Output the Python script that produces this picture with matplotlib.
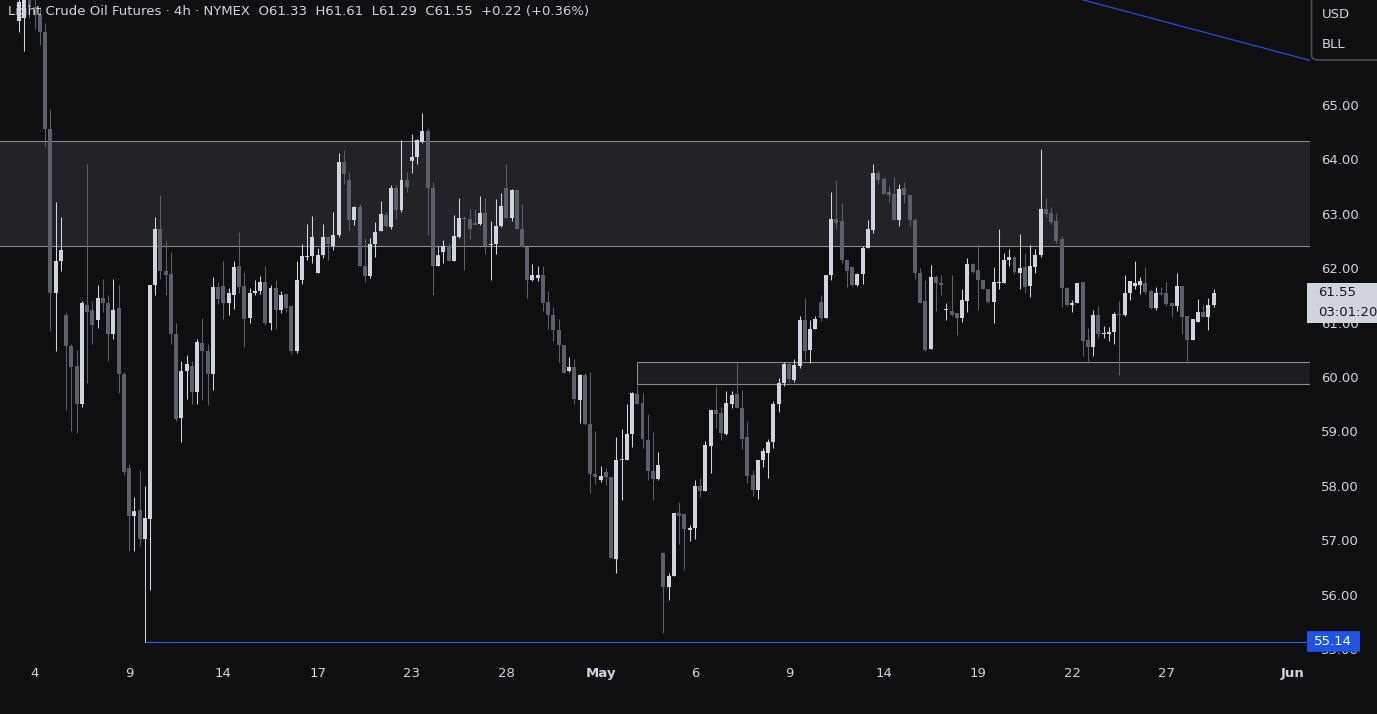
import matplotlib
matplotlib.use("Agg")
import matplotlib.pyplot as plt
from matplotlib.patches import Rectangle, FancyBboxPatch
from matplotlib.transforms import blended_transform_factory

# 4h OHLC bars (oldest first)
opens = [66.55, 66.60, 67.00, 66.80, 66.65, 66.34, 64.56, 61.55, 62.13, 61.14,
         60.58, 60.20, 59.51, 61.33, 61.24, 61.04, 61.46, 61.36, 60.79, 61.27,
         60.05, 58.33, 57.45, 57.55, 57.02, 57.39, 61.69, 62.72, 61.95, 61.89,
         60.79, 59.25, 60.11, 60.21, 59.72, 60.62, 60.48, 60.05, 61.65, 61.67,
         61.36, 61.51, 62.04, 61.67, 61.08, 61.54, 61.59, 61.74, 60.99, 61.64,
         61.24, 61.53, 61.30, 60.48, 61.78, 62.20, 62.22, 61.91, 62.24, 62.57,
         62.41, 62.61, 63.95, 63.62, 62.88, 63.12, 62.05, 61.85, 62.44, 62.68,
         62.98, 62.76, 63.48, 63.07, 63.62, 63.97, 64.04, 64.32, 64.52, 63.47,
         62.04, 62.30, 62.41, 62.13, 62.58, 62.92, 62.91, 62.83, 62.81, 63.02,
         62.42, 62.45, 62.78, 63.47, 62.92, 63.43, 62.72, 62.39, 61.79, 61.82,
         61.88, 61.38, 61.14, 60.87, 60.59, 60.11, 60.19, 59.57, 60.03, 59.14,
         58.22, 58.10, 58.25, 58.17, 56.65, 58.47, 58.47, 58.96, 59.68, 59.52,
         58.85, 58.28, 58.13, 56.77, 56.15, 56.34, 57.51, 57.48, 57.19, 57.22,
         58.00, 57.91, 58.73, 59.39, 59.34, 58.95, 59.50, 59.69, 59.44, 58.89,
         58.20, 57.92, 58.47, 58.61, 58.80, 59.50, 59.90, 60.24, 59.94, 60.21,
         61.04, 60.49, 60.89, 61.38, 61.09, 61.87, 62.90, 62.87, 62.16, 62.02,
         61.69, 61.89, 62.37, 62.70, 63.75, 63.64, 63.41, 63.36, 62.89, 63.47,
         63.34, 62.89, 61.92, 61.40, 60.52, 61.83, 61.72, 61.24, 61.21, 61.18,
         61.09, 61.40, 62.07, 61.97, 61.78, 61.62, 61.38, 61.72, 61.73, 62.16,
         62.20, 61.92, 62.03, 61.67, 62.03, 62.25, 63.09, 63.02, 62.86, 62.53,
         61.64, 61.32, 61.37, 61.75, 60.68, 60.55, 61.14, 60.79, 60.80, 60.82,
         61.16, 61.14, 61.54, 61.68, 61.70, 61.73, 61.59, 61.27, 61.55, 61.54,
         61.37, 61.31, 61.67, 61.13, 60.68, 61.02, 61.19, 61.11, 61.33]
highs = [67.10, 67.20, 67.30, 67.00, 66.80, 66.50, 64.93, 63.21, 62.94, 61.19,
         60.60, 60.50, 61.40, 63.91, 61.40, 61.70, 61.80, 61.50, 61.80, 61.70,
         60.10, 58.40, 57.80, 58.29, 58.00, 61.70, 62.94, 63.35, 62.50, 62.30,
         61.00, 60.30, 60.40, 60.30, 60.70, 61.08, 60.60, 61.83, 61.75, 62.13,
         61.64, 62.13, 62.67, 61.94, 61.64, 61.78, 61.85, 62.04, 61.69, 61.79,
         61.58, 61.53, 61.30, 62.14, 62.44, 62.81, 62.96, 62.38, 62.81, 62.59,
         63.04, 64.12, 64.17, 63.76, 63.15, 63.18, 62.56, 62.56, 62.85, 63.24,
         63.03, 63.53, 63.53, 64.35, 63.76, 64.46, 64.38, 64.86, 64.57, 63.58,
         62.41, 62.52, 62.47, 62.98, 63.29, 62.96, 63.09, 63.09, 63.33, 63.29,
         62.87, 63.27, 63.39, 63.91, 63.46, 63.43, 63.18, 62.39, 62.07, 62.04,
         62.04, 61.59, 61.28, 61.06, 60.59, 60.37, 60.34, 60.06, 60.08, 60.10,
         59.00, 58.37, 58.32, 58.17, 58.89, 59.04, 59.50, 59.73, 59.85, 59.70,
         59.32, 58.99, 58.62, 56.79, 56.40, 57.51, 57.71, 57.48, 57.28, 58.10,
         58.14, 58.82, 59.39, 59.83, 59.45, 59.74, 59.75, 60.27, 59.76, 59.19,
         58.29, 58.47, 58.69, 58.87, 59.56, 59.99, 60.28, 60.28, 60.33, 61.12,
         61.45, 61.04, 61.12, 61.51, 61.87, 63.41, 63.62, 63.19, 62.16, 62.02,
         61.92, 62.41, 62.89, 63.92, 63.81, 63.68, 63.52, 63.67, 63.55, 63.59,
         63.34, 62.93, 62.01, 61.78, 62.06, 61.87, 61.87, 61.36, 61.87, 61.18,
         61.62, 62.19, 62.10, 62.44, 61.78, 61.62, 62.02, 62.72, 62.28, 62.35,
         62.23, 62.63, 62.28, 62.43, 62.35, 64.20, 63.29, 63.13, 63.02, 62.60,
         61.66, 61.42, 61.73, 61.75, 60.91, 61.24, 61.30, 60.94, 60.92, 61.20,
         61.40, 61.88, 61.77, 62.14, 61.83, 62.03, 61.61, 61.66, 61.66, 61.74,
         61.37, 61.91, 61.67, 61.13, 61.07, 61.43, 61.33, 61.45, 61.61]
lows = [66.35, 66.00, 66.60, 66.40, 66.10, 64.24, 60.85, 60.47, 61.95, 59.40,
        59.00, 58.98, 59.45, 59.90, 60.60, 60.90, 61.20, 60.30, 60.70, 59.70,
        58.20, 56.80, 56.80, 56.90, 55.14, 56.08, 61.50, 61.80, 61.50, 60.60,
        59.20, 58.80, 59.60, 59.50, 59.50, 59.57, 59.49, 59.77, 61.34, 61.06,
        61.14, 61.25, 61.54, 60.56, 61.00, 61.50, 61.52, 60.95, 60.86, 60.88,
        61.18, 61.20, 60.42, 60.44, 61.71, 62.16, 62.10, 61.91, 62.19, 62.16,
        62.33, 62.58, 63.55, 62.70, 62.80, 62.04, 61.75, 61.82, 62.21, 62.68,
        62.76, 62.73, 62.91, 63.03, 63.41, 63.75, 63.91, 64.30, 62.62, 61.51,
        62.04, 62.10, 62.13, 62.13, 62.56, 61.96, 62.54, 62.81, 62.79, 62.27,
        61.79, 62.27, 62.75, 62.93, 62.87, 62.72, 62.39, 61.45, 61.76, 61.77,
        61.21, 60.88, 60.66, 60.28, 60.07, 60.10, 59.50, 59.16, 59.11, 57.87,
        58.04, 58.07, 58.01, 56.67, 56.40, 57.74, 58.47, 58.72, 59.50, 58.69,
        58.11, 57.74, 58.10, 55.30, 55.91, 56.34, 56.94, 56.46, 56.99, 57.03,
        57.79, 57.91, 58.24, 59.07, 58.84, 58.93, 59.44, 59.44, 58.68, 58.06,
        57.82, 57.75, 58.35, 58.15, 58.70, 59.35, 59.83, 59.91, 59.91, 60.17,
        60.32, 60.25, 60.88, 61.03, 61.09, 61.79, 62.73, 62.10, 61.66, 61.67,
        61.67, 61.71, 62.37, 62.64, 63.55, 63.36, 63.21, 62.89, 62.77, 63.20,
        62.77, 61.80, 61.37, 60.47, 60.52, 61.22, 61.50, 61.05, 61.12, 60.78,
        61.01, 61.19, 61.91, 61.24, 61.61, 61.37, 60.99, 61.61, 61.72, 62.04,
        61.90, 61.62, 61.54, 61.48, 61.91, 62.20, 62.94, 62.82, 62.44, 61.28,
        61.31, 61.19, 61.36, 60.38, 60.25, 60.38, 60.71, 60.71, 60.67, 60.60,
        60.03, 61.12, 61.42, 61.61, 61.53, 61.52, 61.26, 61.24, 61.50, 61.31,
        61.10, 61.21, 60.79, 60.25, 60.68, 61.02, 61.10, 60.86, 61.29]
closes = [66.90, 67.00, 66.80, 66.65, 66.34, 64.56, 61.55, 62.13, 62.33, 60.58,
          60.18, 59.51, 61.36, 61.20, 60.96, 61.46, 61.36, 60.79, 61.24, 60.05,
          58.25, 57.45, 57.54, 57.02, 57.41, 61.69, 62.72, 61.95, 61.88, 60.79,
          59.23, 60.11, 60.24, 59.72, 60.64, 60.47, 60.05, 61.65, 61.44, 61.36,
          61.54, 62.02, 61.65, 61.06, 61.54, 61.59, 61.74, 60.99, 61.64, 61.24,
          61.50, 61.27, 60.48, 61.78, 62.22, 62.22, 62.57, 62.24, 62.57, 62.44,
          62.62, 63.95, 63.73, 62.88, 63.12, 62.05, 61.85, 62.44, 62.67, 62.99,
          62.78, 63.48, 63.07, 63.62, 63.50, 64.05, 64.35, 64.52, 63.47, 62.04,
          62.25, 62.41, 62.13, 62.59, 62.93, 62.90, 62.73, 62.80, 63.02, 62.41,
          62.45, 62.78, 63.15, 62.93, 63.43, 62.72, 62.39, 61.79, 61.87, 61.88,
          61.36, 61.14, 60.87, 60.59, 60.07, 60.19, 59.59, 60.03, 59.14, 58.21,
          58.17, 58.19, 58.17, 56.67, 58.47, 58.49, 58.96, 59.70, 59.50, 58.87,
          58.28, 58.13, 58.38, 56.15, 56.34, 57.51, 57.45, 57.20, 57.23, 58.00,
          57.91, 58.75, 59.39, 59.33, 58.98, 59.53, 59.67, 59.44, 58.87, 58.19,
          57.92, 58.47, 58.64, 58.80, 59.50, 59.90, 60.24, 59.96, 60.22, 61.04,
          60.47, 60.89, 61.06, 61.09, 61.87, 62.90, 62.83, 62.15, 61.95, 61.69,
          61.90, 62.37, 62.72, 63.75, 63.63, 63.37, 63.34, 62.89, 63.45, 63.35,
          62.89, 61.92, 61.37, 60.50, 61.83, 61.72, 61.70, 61.26, 61.14, 61.09,
          61.41, 62.07, 61.93, 61.78, 61.61, 61.38, 61.74, 61.74, 62.16, 62.20,
          61.93, 62.00, 61.65, 62.05, 62.25, 63.08, 63.00, 62.85, 62.50, 61.64,
          61.33, 61.37, 61.73, 60.67, 60.55, 61.14, 60.79, 60.81, 60.82, 61.16,
          61.14, 61.54, 61.77, 61.73, 61.77, 61.57, 61.27, 61.54, 61.53, 61.34,
          61.30, 61.67, 61.11, 60.68, 61.07, 61.19, 61.11, 61.33, 61.55]

# date axis: bar index of the first bar of each labelled session
date_ticks = [3, 21, 39, 57, 75, 93, 111, 129, 147, 165, 183, 201, 219, 243]
date_labels = ["4", "9", "14", "17", "23", "28", "May", "6", "9", "14", "19", "22", "27", "Jun"]
price_ticks = [55, 56, 57, 58, 59, 60, 61, 62, 63, 64, 65]

# drawn levels
upper_zone = (62.41, 64.34)
lower_zone = (59.87, 60.28)
lower_zone_start = 118
low_level = 55.14
low_level_start = 24
trend_line = ([200, 246.4], [67.01, 65.82])

title = "Light Crude Oil Futures · 4h · NYMEX  O61.33  H61.61  L61.29  C61.55  +0.22 (+0.36%)"

BG = "#0f0f0f"
UP = "#d1d4dc"
DOWN = "#5d606b"
TXT = "#d1d4dc"
BLUE = "#2962ff"

W, H = 1377, 714
fig = plt.figure(figsize=(W / 100, H / 100), dpi=100, facecolor=BG)
ax = fig.add_axes([0, 54 / H, 1310 / W, 660 / H], facecolor=BG)

n = len(closes)
xs = list(range(n))
cols = [UP if c >= o else DOWN for o, c in zip(opens, closes)]
bottoms = [min(o, c) for o, c in zip(opens, closes)]
heights = [max(abs(c - o), 0.02) for o, c in zip(opens, closes)]

# zones
ax.add_patch(Rectangle((-20, upper_zone[0]), 300, upper_zone[1] - upper_zone[0],
                       facecolor="#232326", edgecolor="#8c8c90", lw=0.8, zorder=1))
ax.add_patch(Rectangle((lower_zone_start - 0.1, lower_zone[0]), 200, lower_zone[1] - lower_zone[0],
                       facecolor="#1d1d1f", edgecolor="#8c8c90", lw=0.8, zorder=1))
ax.hlines(low_level, low_level_start, 300, colors=BLUE, lw=0.8, zorder=2)
ax.plot(trend_line[0], trend_line[1], color="#2450e0", lw=0.9, zorder=2)

# candles
ax.vlines(xs, lows, highs, colors=cols, lw=0.75, zorder=3)
ax.bar(xs, heights, bottom=bottoms, width=0.76, color=cols, lw=0, zorder=4)

ax.set_xlim(-3.63, 246.4)
ax.set_ylim(54.80, 66.93)
for s in ax.spines.values():
    s.set_visible(False)

ax.yaxis.tick_right()
ax.set_yticks(price_ticks)
ax.set_yticklabels([f"{p:.2f}" for p in price_ticks])
ax.tick_params(axis="y", length=0, pad=8, labelsize=9.5, labelcolor=TXT)
ax.set_xticks(date_ticks)
ax.set_xticklabels(date_labels)
ax.tick_params(axis="x", length=0, pad=5, labelsize=9.5, labelcolor=TXT)
for lab in ax.get_xticklabels():
    if lab.get_text() in ("May", "Jun"):
        lab.set_fontweight("bold")

fig.text(8 / W, 1 - 12 / H, title, color=TXT, fontsize=9.5, va="center", ha="left")

# right-hand labels
tr = blended_transform_factory(fig.transFigure, ax.transData)
last = closes[-1]
fig.patches.append(Rectangle((1307 / W, last - 0.55), 70 / W, 0.72, transform=tr,
                             facecolor="#d1d4dc", edgecolor="none", zorder=5))
fig.text(1318 / W, last + 0.0, f"{last:.2f}", transform=tr, color="#131722",
         fontsize=9.5, va="center", ha="left", zorder=6)
fig.text(1318 / W, last - 0.36, "03:01:20", transform=tr, color="#131722",
         fontsize=9.5, va="center", ha="left", zorder=6)

fig.patches.append(FancyBboxPatch((1307 / W, low_level - 0.19), 53 / W, 0.38, transform=tr,
                                  boxstyle="round,pad=0,rounding_size=0.003",
                                  facecolor="#1e53e5", edgecolor="none", zorder=5))
fig.text(1333 / W, low_level, f"{low_level:.2f}", transform=tr, color="white",
         fontsize=9.5, va="center", ha="center", zorder=6)

fig.patches.append(FancyBboxPatch((1311.5 / W, 654 / H), 80 / W, 70 / H,
                                  transform=fig.transFigure,
                                  boxstyle="round,pad=0,rounding_size=0.006",
                                  facecolor=BG, edgecolor="#4a4c55", lw=1.2, zorder=5))
fig.text(1322 / W, 1 - 14 / H, "USD", color=TXT, fontsize=9.5, va="center", zorder=6)
fig.text(1322 / W, 1 - 44 / H, "BLL", color=TXT, fontsize=9.5, va="center", zorder=6)

fig.savefig("out.png", dpi=100, facecolor=BG)
